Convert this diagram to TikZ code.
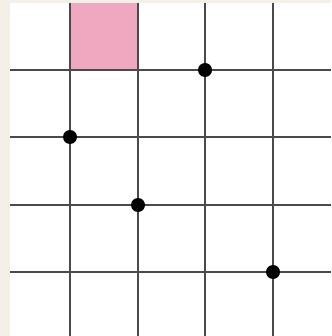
\documentclass[tikz,border=0pt]{standalone}
\definecolor{bgbeige}{HTML}{F4F0E8}
\definecolor{cellpink}{HTML}{EFA8BF}
\definecolor{gridgray}{HTML}{4A4A4A}
\tikzset{
  gridline/.style={draw=gridgray, line width=2.4pt},
  dotmark/.style={circle, fill=black, inner sep=0pt, minimum size=14pt}
}
\begin{document}
\begin{tikzpicture}[x=1pt,y=-1pt]
\fill[bgbeige] (0,0) rectangle (331,336);
\useasboundingbox (0,0) rectangle (331,336);
\fill[white] (10,3) rectangle (331,336);
\fill[cellpink] (70,3) rectangle (138,70);
\foreach \x in {70,138,205,273} \draw[gridline] (\x,3) -- (\x,336);
\foreach \y in {70,137,205,272} \draw[gridline] (10,\y) -- (331,\y);
\node[dotmark] (d1) at (205,70) {};
\node[dotmark] (d2) at (70,137) {};
\node[dotmark] (d3) at (138,205) {};
\node[dotmark] (d4) at (273,272) {};
\end{tikzpicture}
\end{document}
